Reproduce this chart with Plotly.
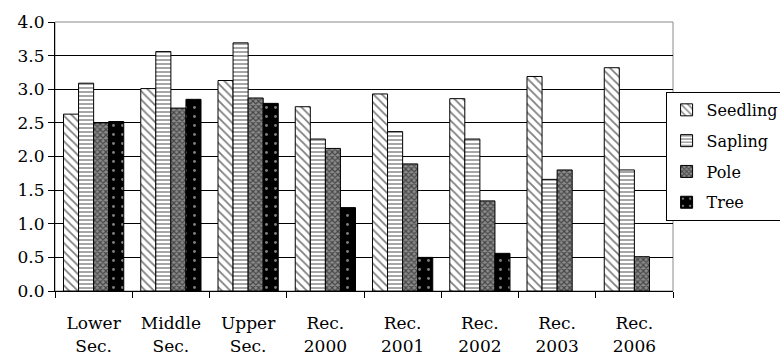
import plotly.graph_objects as go

categories = ["Lower<br>Sec.", "Middle<br>Sec.", "Upper<br>Sec.", "Rec.<br>2000",
              "Rec.<br>2001", "Rec.<br>2002", "Rec.<br>2003", "Rec.<br>2006"]
seedling = [2.63, 3.01, 3.13, 2.74, 2.93, 2.86, 3.19, 3.32]
sapling = [3.09, 3.56, 3.69, 2.26, 2.37, 2.26, 1.66, 1.80]
pole = [2.50, 2.72, 2.87, 2.12, 1.89, 1.34, 1.80, 0.51]
tree = [2.52, 2.85, 2.79, 1.24, 0.50, 0.56, None, None]
y_ticks = [0.0, 0.5, 1.0, 1.5, 2.0, 2.5, 3.0, 3.5, 4.0]

FONT = "DejaVu Serif"

series = [
    ("Seedling", seedling, dict(shape="\\", fgcolor="black", bgcolor="white", size=6, solidity=0.3)),
    ("Sapling", sapling, dict(shape="-", fgcolor="black", bgcolor="white", size=4, solidity=0.35)),
    ("Pole", pole, dict(shape="x", fgcolor="black", bgcolor="#8c8c8c", size=4, solidity=0.5)),
    ("Tree", tree, dict(shape=".", fgcolor="white", bgcolor="black", size=9, solidity=0.08)),
]

fig = go.Figure()
for name, vals, pat in series:
    fig.add_trace(go.Bar(
        x=categories, y=vals, name=name, legendgroup=name,
        marker=dict(color=pat["bgcolor"], line=dict(color="black", width=1), pattern=pat),
    ))

# gray frame on the top and right of the plotting area
fig.add_shape(type="rect", xref="paper", yref="paper", x0=0, x1=1, y0=0, y1=1,
              line=dict(color="#8a8a8a", width=1), layer="below")

fig.update_layout(
    width=780, height=358,
    margin=dict(l=55, r=107, t=22, b=67, autoexpand=False),
    paper_bgcolor="white", plot_bgcolor="white",
    barmode="group", bargap=0.22, bargroupgap=0,
    font=dict(family=FONT, size=17, color="black"),
    legend=dict(
        x=0.988, xanchor="left", y=0.74, yanchor="top",
        bordercolor="black", borderwidth=1, bgcolor="white",
        traceorder="grouped", tracegroupgap=7,
        font=dict(family=FONT, size=16, color="black"),
        itemwidth=30,
    ),
    xaxis=dict(
        showline=True, linecolor="black", linewidth=1,
        ticks="outside", ticklen=6, tickcolor="black", tickson="boundaries",
        ticklabelstandoff=17,
        showgrid=False, tickfont=dict(family=FONT, size=17),
    ),
    yaxis=dict(
        range=[0, 4], tickvals=y_ticks, tickformat=".1f",
        showline=True, linecolor="black", linewidth=1,
        ticks="outside", ticklen=6, tickcolor="black",
        showgrid=True, gridcolor="black", gridwidth=1,
        zeroline=False, tickfont=dict(family=FONT, size=17),
    ),
)

fig.write_html("out.html")
